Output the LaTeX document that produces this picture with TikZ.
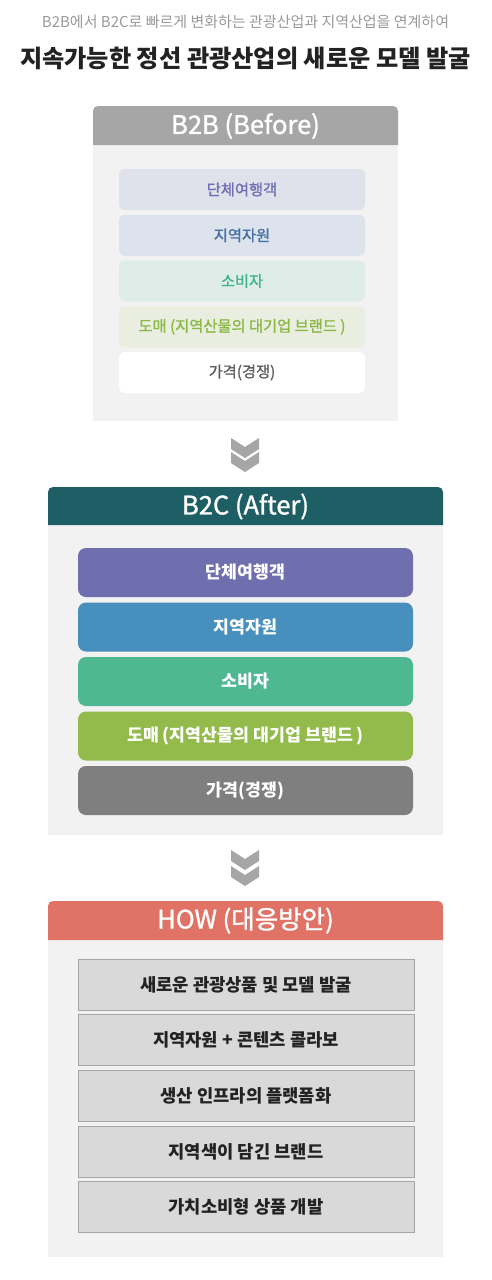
\documentclass[tikz,border=0pt]{standalone}
\usepackage{fontspec}
\setmainfont{Noto Sans CJK KR}
\newfontfamily\krmed[FakeBold=1.2]{Noto Sans CJK KR}
\definecolor{subgray}{HTML}{9A9A9A}
\definecolor{titleblack}{HTML}{222222}
\definecolor{panelgray}{HTML}{F2F2F2}
\definecolor{headgray}{HTML}{A6A6A6}
\definecolor{headteal}{HTML}{1E5F66}
\definecolor{headred}{HTML}{E07366}
\definecolor{arrowgray}{HTML}{A6A6A6}
\definecolor{bfillA}{HTML}{DFE1EB}\definecolor{btextA}{HTML}{6E6EB3}
\definecolor{bfillB}{HTML}{DDE3EC}\definecolor{btextB}{HTML}{4570A6}
\definecolor{bfillC}{HTML}{DFEDE8}\definecolor{btextC}{HTML}{45B48A}
\definecolor{bfillD}{HTML}{E9EEE1}\definecolor{btextD}{HTML}{8AB943}
\definecolor{bfillE}{HTML}{FFFFFF}\definecolor{btextE}{HTML}{5F5F5F}
\definecolor{cA}{HTML}{6F6FB0}
\definecolor{cB}{HTML}{478FBD}
\definecolor{cC}{HTML}{4DB891}
\definecolor{cD}{HTML}{92BB4C}
\definecolor{cE}{HTML}{7F7F7F}
\definecolor{howfill}{HTML}{D9D9D9}
\definecolor{howline}{HTML}{A6A6A6}
\tikzset{
  hdrtext/.style={text=white, font=\krmed\fontsize{25.5}{28}\selectfont, inner sep=0pt},
  panelbox/.style={fill=panelgray, draw=none, inner sep=0pt},
  bitem/.style={rounded corners=6pt, minimum width=246pt, minimum height=41pt, inner sep=0pt, font=\krmed\fontsize{15.3}{17}\selectfont},
  citem/.style={rounded corners=8pt, minimum width=335pt, minimum height=49pt, inner sep=0pt, text=white, font=\bfseries\fontsize{17.3}{20}\selectfont},
  hitem/.style={fill=howfill, draw=howline, line width=0.8pt, minimum width=336pt, minimum height=51pt, inner sep=0pt, text=titleblack, font=\bfseries\fontsize{17.7}{20}\selectfont},
  chev/.pic={
    \fill[arrowgray] (-14,0) -- (0,9) -- (14,0) -- (14,11) -- (0,20) -- (-14,11) -- cycle;
  }
}
\begin{document}
\begin{tikzpicture}[x=1pt,y=-1pt]
\useasboundingbox[fill=white] (0,0) rectangle (491,1280);

% titles
\node[text=subgray, font=\fontsize{15}{17}\selectfont, inner sep=0pt] (sub) at (245.5,22) {B2B에서 B2C로 빠르게 변화하는 관광산업과 지역산업을 연계하여};
\node[text=titleblack, font=\bfseries\fontsize{24.2}{27}\selectfont, inner sep=0pt] (title) at (245.5,58) {지속가능한 정선 관광산업의 새로운 모델 발굴};

% ---- B2B ----
\node[panelbox, minimum width=305pt, minimum height=276pt] (p1) at (245.5,283) {};
\fill[headgray] (93,145) [rounded corners=5pt] -- (93,106) -- (398,106) [sharp corners] -- (398,145) -- cycle;
\node[hdrtext] (h1) at (245.5,126) {B2B (Before)};
\node[bitem, fill=bfillA, text=btextA] (b1) at (242,189.5) {단체여행객};
\node[bitem, fill=bfillB, text=btextB] (b2) at (242,235.3) {지역자원};
\node[bitem, fill=bfillC, text=btextC] (b3) at (242,281) {소비자};
\node[bitem, fill=bfillD, text=btextD] (b4) at (242,326.8) {도매 (지역산물의 대기업 브랜드 )};
\node[bitem, fill=bfillE, text=btextE] (b5) at (242,372.5) {가격(경쟁)};

% arrow 1
\pic at (245,438) {chev};
\pic at (245,452) {chev};

% ---- B2C ----
\node[panelbox, minimum width=395pt, minimum height=310pt] (p2) at (245.5,680) {};
\fill[headteal] (48,525) [rounded corners=5pt] -- (48,487) -- (443,487) [sharp corners] -- (443,525) -- cycle;
\node[hdrtext] (h2) at (245.5,506.5) {B2C (After)};
\node[citem, fill=cA] (c1) at (245.5,572.5) {단체여행객};
\node[citem, fill=cB] (c2) at (245.5,627) {지역자원};
\node[citem, fill=cC] (c3) at (245.5,681.5) {소비자};
\node[citem, fill=cD] (c4) at (245.5,736) {도매 (지역산물의 대기업 브랜드 )};
\node[citem, fill=cE] (c5) at (245.5,790.5) {가격(경쟁)};

% arrow 2
\pic at (245,850) {chev};
\pic at (245,866) {chev};

% ---- HOW ----
\node[panelbox, minimum width=395pt, minimum height=317pt] (p3) at (245.5,1098.5) {};
\fill[headred] (48,940) [rounded corners=5pt] -- (48,901) -- (443,901) [sharp corners] -- (443,940) -- cycle;
\node[hdrtext] (h3) at (245.5,920.5) {HOW (대응방안)};
\node[hitem] (w1) at (246,984.5) {새로운 관광상품 및 모델 발굴};
\node[hitem] (w2) at (246,1040) {지역자원 + 콘텐츠 콜라보};
\node[hitem] (w3) at (246,1095.5) {생산 인프라의 플랫폼화};
\node[hitem] (w4) at (246,1151.5) {지역색이 담긴 브랜드};
\node[hitem] (w5) at (246,1207) {가치소비형 상품 개발};
\end{tikzpicture}
\end{document}
